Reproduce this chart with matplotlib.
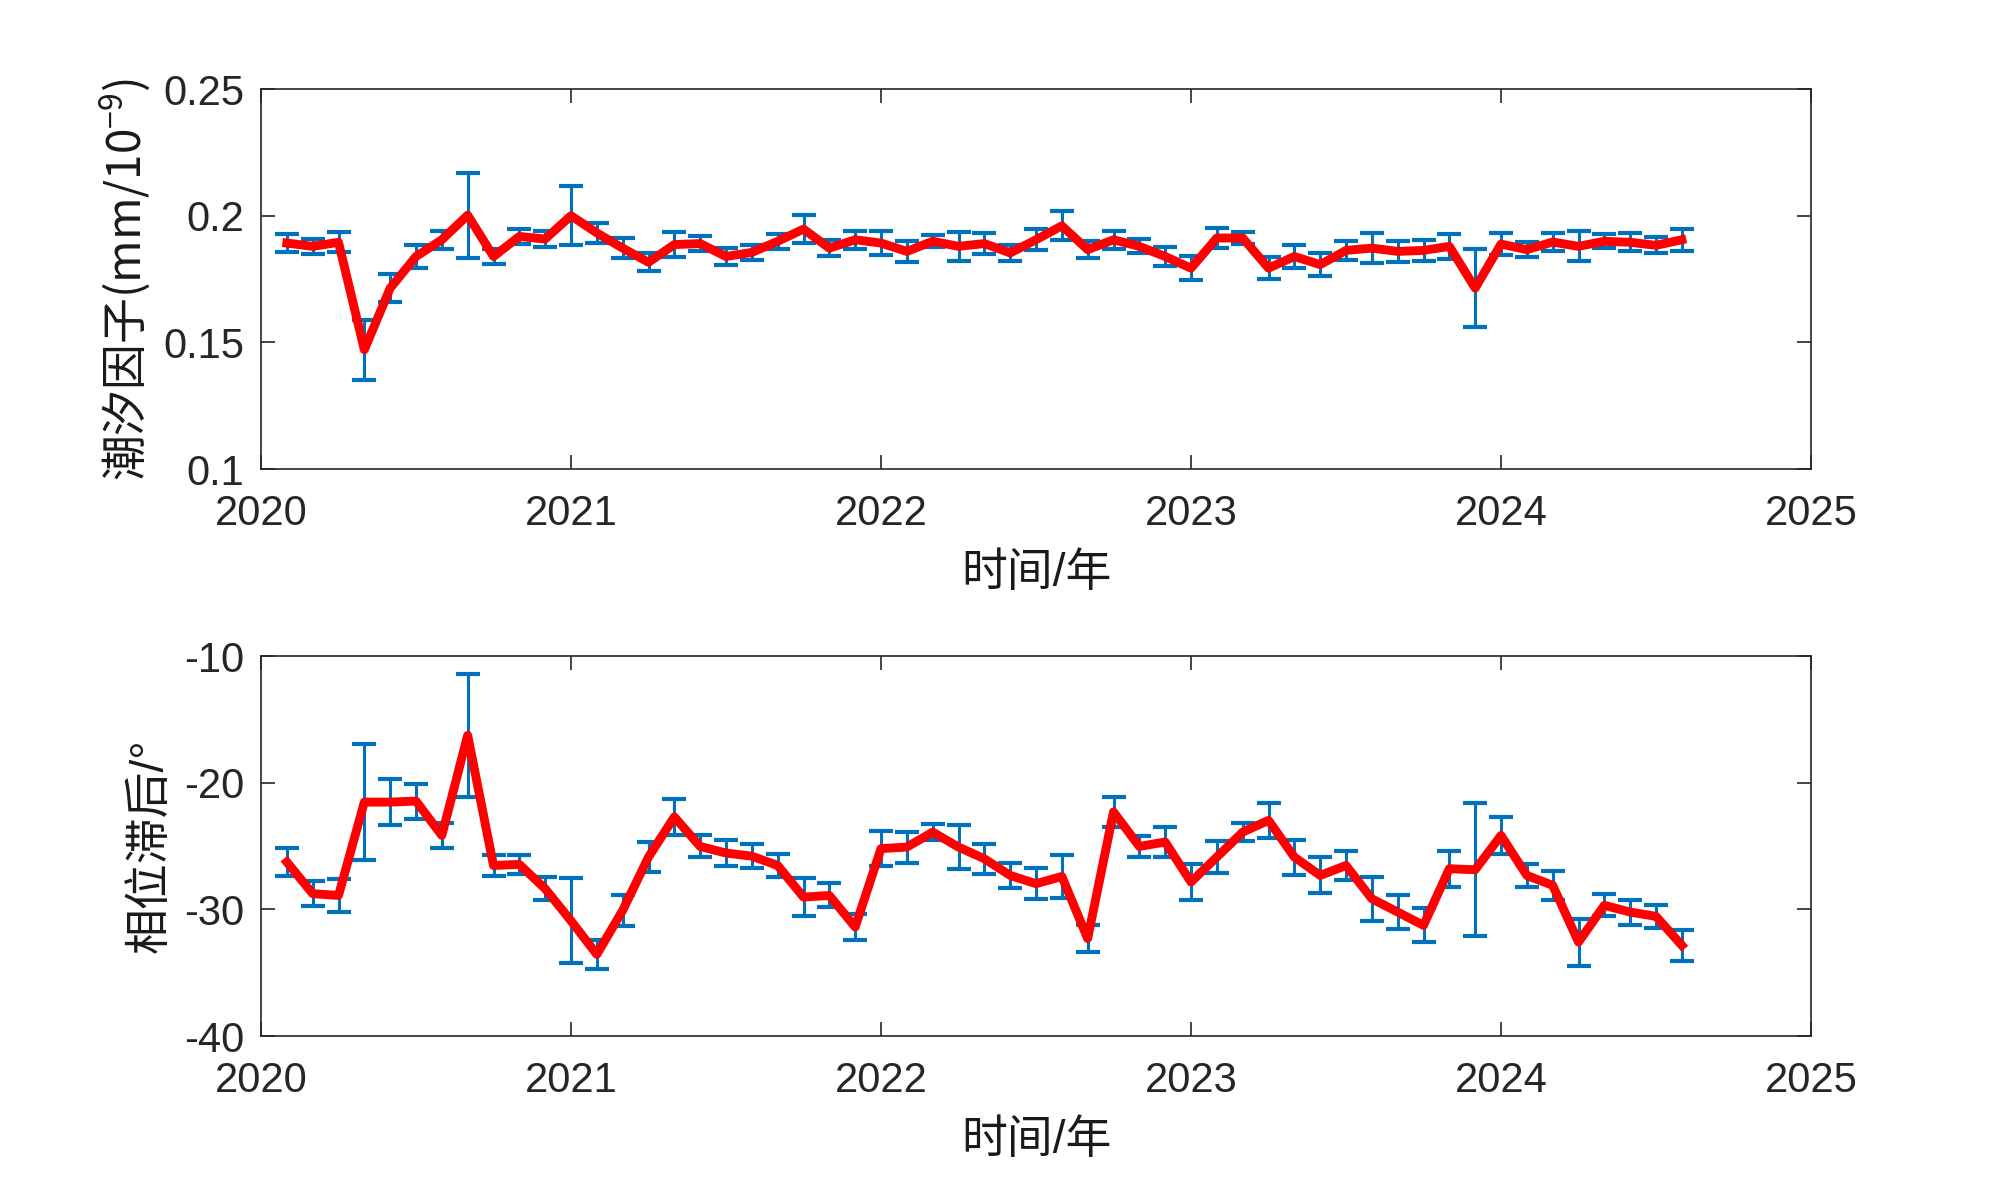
import numpy as np
import matplotlib
matplotlib.use("Agg")
import matplotlib.pyplot as plt
from matplotlib.ticker import FuncFormatter

plt.rcParams['font.family'] = ['Liberation Sans', 'Noto Sans CJK SC', 'DejaVu Sans']
plt.rcParams['axes.unicode_minus'] = False
plt.rcParams['mathtext.fontset'] = 'custom'
plt.rcParams['mathtext.rm'] = 'Liberation Sans'
plt.rcParams['mathtext.it'] = 'Liberation Sans'
plt.rcParams['mathtext.default'] = 'regular'

# ---- data (monthly, Feb 2020 .. Aug 2024) ----
month_index = np.arange(1, 56)           # months after Jan 2020
t = 2020 + month_index / 12.0

tide = [0.1892, 0.1879, 0.1895, 0.1471, 0.1714, 0.1839, 0.1905, 0.2002, 0.1839, 0.1918,
        0.1908, 0.2000, 0.1932, 0.1872, 0.1816, 0.1886, 0.1890, 0.1839, 0.1855, 0.1899,
        0.1947, 0.1872, 0.1905, 0.1892, 0.1859, 0.1899, 0.1879, 0.1890, 0.1853, 0.1905,
        0.1960, 0.1866, 0.1905, 0.1879, 0.1839, 0.1793, 0.1912, 0.1912, 0.1793, 0.1839,
        0.1807, 0.1863, 0.1872, 0.1859, 0.1863, 0.1879, 0.1714, 0.1888, 0.1866, 0.1896,
        0.1879, 0.1899, 0.1895, 0.1883, 0.1905]
tide_err = [0.0037, 0.0030, 0.0040, 0.0118, 0.0055, 0.0046, 0.0036, 0.0168, 0.0030, 0.0028,
            0.0030, 0.0117, 0.0040, 0.0040, 0.0036, 0.0049, 0.0030, 0.0034, 0.0030, 0.0030,
            0.0054, 0.0032, 0.0036, 0.0047, 0.0040, 0.0024, 0.0057, 0.0040, 0.0033, 0.0041,
            0.0057, 0.0034, 0.0036, 0.0028, 0.0038, 0.0046, 0.0041, 0.0025, 0.0043, 0.0046,
            0.0044, 0.0037, 0.0059, 0.0043, 0.0041, 0.0048, 0.0154, 0.0045, 0.0031, 0.0036,
            0.0059, 0.0028, 0.0035, 0.0031, 0.0043]

phase = [-26.26, -28.76, -28.90, -21.53, -21.53, -21.45, -24.16, -16.26, -26.53, -26.45,
         -28.37, -30.90, -33.55, -30.08, -25.87, -22.70, -25.03, -25.55, -25.80, -26.53,
         -29.03, -28.90, -31.39, -25.20, -25.08, -23.90, -25.08, -26.00, -27.32, -27.97,
         -27.40, -32.30, -22.30, -25.03, -24.68, -27.84, -25.87, -23.90, -22.97, -25.87,
         -27.32, -26.53, -29.16, -30.21, -31.26, -26.79, -26.87, -24.16, -27.32, -28.10,
         -32.58, -29.68, -30.21, -30.55, -32.84]
phase_err = [1.09, 1.00, 1.28, 4.58, 1.83, 1.38, 1.00, 4.83, 0.82, 0.76,
             0.92, 3.36, 1.14, 1.21, 1.18, 1.45, 0.87, 1.05, 0.93, 0.92,
             1.51, 0.95, 1.03, 1.41, 1.22, 0.66, 1.71, 1.17, 0.96, 1.20,
             1.71, 1.05, 1.18, 0.83, 1.16, 1.39, 1.24, 0.74, 1.38, 1.38,
             1.42, 1.16, 1.74, 1.36, 1.34, 1.41, 5.26, 1.45, 0.92, 1.13,
             1.86, 0.86, 0.99, 0.93, 1.25]

year_ticks = [2020, 2021, 2022, 2023, 2024, 2025]
tide_ticks = [0.1, 0.15, 0.2, 0.25]
phase_ticks = [-40, -30, -20, -10]

xlabel = '时间/年'
ylabel_top = '潮汐因子(mm/10$^{-9}$)'
ylabel_bot = '相位滞后/°'

# ---- figure ----
fig = plt.figure(figsize=(10, 5.975), dpi=200)
ax_color = '#262626'
blue = (0.0, 0.447, 0.741)
red = (1.0, 0.0, 0.0)

ax1 = fig.add_axes([0.1305, 0.6075, 0.775, 0.318])
ax2 = fig.add_axes([0.1305, 0.133, 0.775, 0.318])

def style(ax, yticks, ylim, ylabel, fmt, ylabel_family=None):
    ax.set_xlim(2020, 2025)
    ax.set_ylim(*ylim)
    ax.set_xticks(year_ticks)
    ax.set_yticks(yticks)
    ax.yaxis.set_major_formatter(FuncFormatter(fmt))
    ax.tick_params(direction='in', length=5, width=0.6, colors=ax_color,
                   labelsize=15, top=True, right=True)
    ax.tick_params(axis='x', pad=9)
    ax.tick_params(axis='y', pad=6)
    for s in ax.spines.values():
        s.set_color(ax_color)
        s.set_linewidth(0.6)
    ax.set_xlabel(xlabel, fontsize=16.5, color='#1a1a1a', labelpad=6.5)
    kw = {}
    if ylabel_family is not None:
        kw['family'] = ylabel_family
    ax.set_ylabel(ylabel, fontsize=16.5, color='#1a1a1a', labelpad=4, **kw)

ax1.errorbar(t, tide, yerr=tide_err, fmt='none', ecolor=blue, elinewidth=1.1,
             capsize=4.3, capthick=1.5, zorder=2)
ax1.plot(t, tide, color=red, linewidth=3.2, zorder=3)
style(ax1, tide_ticks, (0.1, 0.25), ylabel_top, lambda v, p: ('%g' % v),
      ylabel_family='Noto Sans CJK SC')

ax2.errorbar(t, phase, yerr=phase_err, fmt='none', ecolor=blue, elinewidth=1.1,
             capsize=4.3, capthick=1.5, zorder=2)
ax2.plot(t, phase, color=red, linewidth=3.2, zorder=3)
style(ax2, phase_ticks, (-40, -10), ylabel_bot, lambda v, p: ('%g' % v))

fig.savefig('out.png', dpi=200, facecolor='white')
